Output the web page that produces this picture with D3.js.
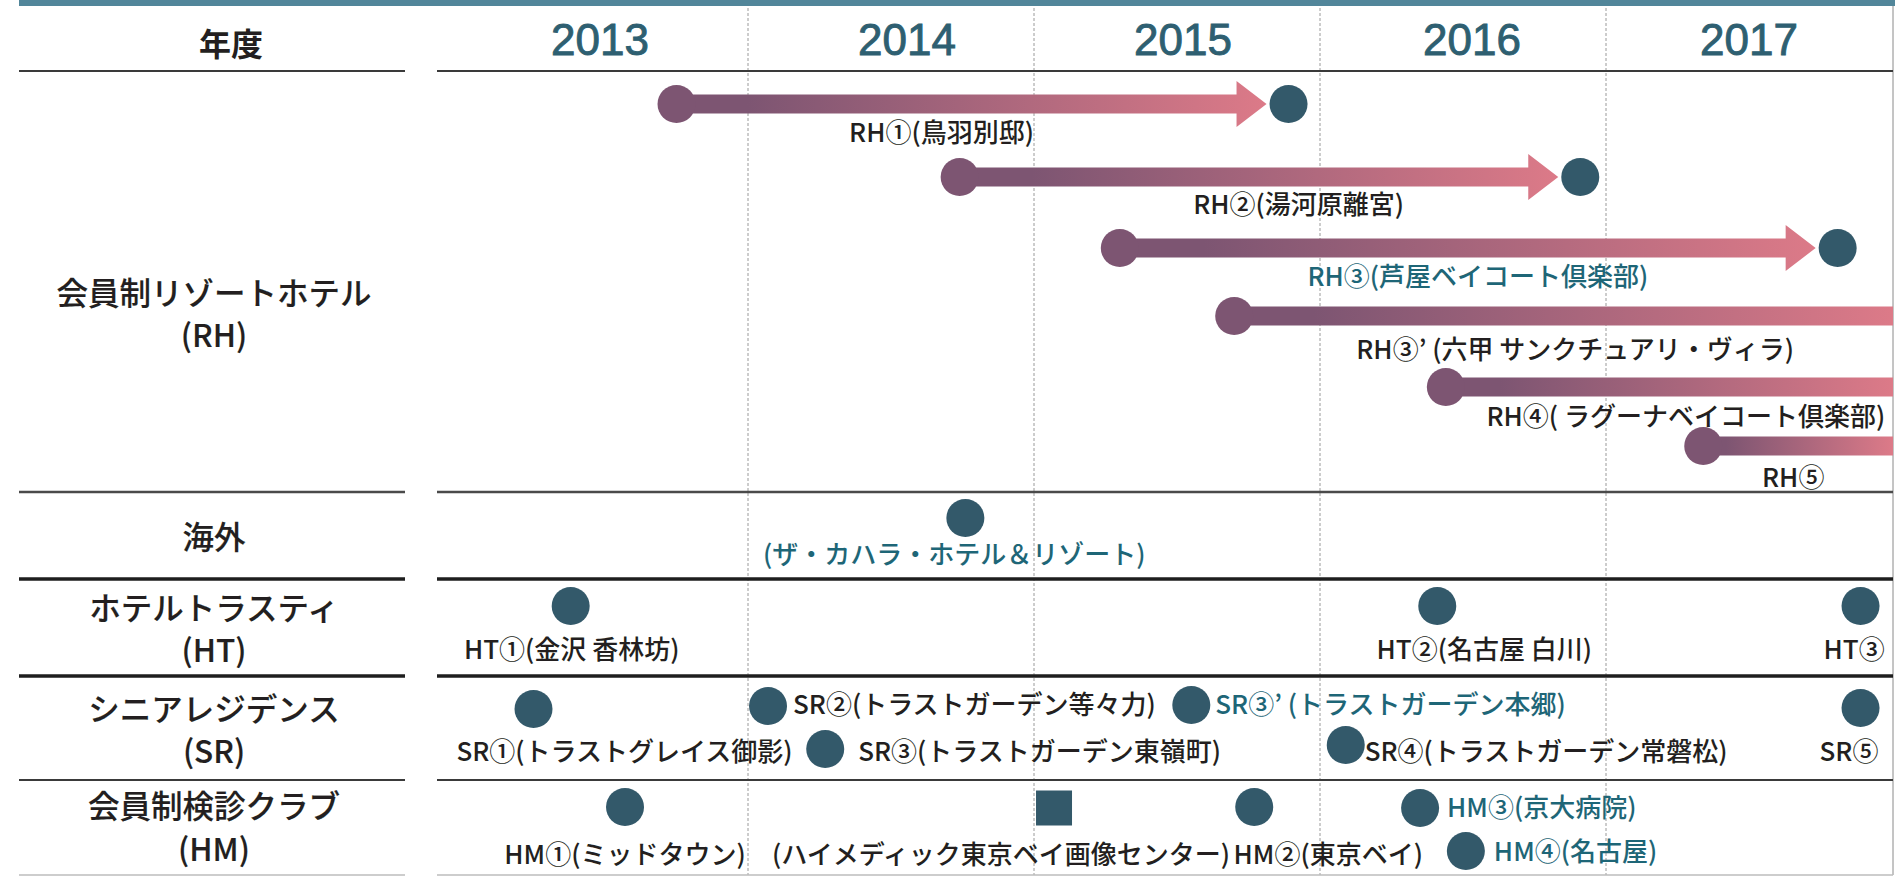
<!DOCTYPE html>
<html><head><meta charset="utf-8">
<script src="https://cdn.jsdelivr.net/npm/d3@7"></script>
<style>
html,body{margin:0;padding:0;background:#fff;overflow:hidden;}
svg{display:block;}
text{font-family:"Noto Sans CJK JP","Noto Sans",sans-serif;}
</style></head><body>
<svg id="chart" width="1895" height="876"></svg>
<script>
// ================= DATA =================
const years = [2013, 2014, 2015, 2016, 2017];
const headerLabel = "年度";
const categories = ["会員制リゾートホテル\n(RH)", "海外", "ホテルトラスティ\n(HT)", "シニアレジデンス\n(SR)", "会員制検診クラブ\n(HM)"];

// Resort hotels (RH): development start -> opening (null = still ongoing at chart edge)
const rhNames = ["RH①(鳥羽別邸)", "RH②(湯河原離宮)", "RH③(芦屋ベイコート倶楽部)", "RH③’ (六甲 サンクチュアリ・ヴィラ)", "RH④( ラグーナベイコート倶楽部)", "RH⑤"];
const rhStart = [2013.75, 2014.74, 2015.30, 2015.70, 2016.44, 2017.34];
const rhEnd   = [2015.89, 2016.91, 2017.81, null, null, null];

// Single events: category index, name, fiscal-year position, marker kind
const evCategory = [1, 2, 2, 2, 3, 3, 3, 3, 3, 3, 4, 4, 4, 4, 4];
const evNames = ["(ザ・カハラ・ホテル＆リゾート)",
  "HT①(金沢 香林坊)", "HT②(名古屋 白川)", "HT③",
  "SR①(トラストグレイス御影)", "SR②(トラストガーデン等々力)", "SR③(トラストガーデン東嶺町)", "SR③’ (トラストガーデン本郷)", "SR④(トラストガーデン常磐松)", "SR⑤",
  "HM①(ミッドタウン)", "(ハイメディック東京ベイ画像センター)", "HM②(東京ベイ)", "HM③(京大病院)", "HM④(名古屋)"];
const evYears = [2014.76,
  2013.38, 2016.41, 2017.89,
  2013.25, 2014.07, 2014.27, 2015.55, 2016.09, 2017.89,
  2013.57, 2015.07, 2015.77, 2016.35, 2016.51];
const evKind = ["circle", "circle", "circle", "circle", "circle", "circle", "circle", "circle", "circle", "circle",
  "circle", "square", "circle", "circle", "circle"];

// ================= LAYOUT / STYLE =================
const W = 1895, H = 876;
const C = {
  topBar: "#52869a", year: "#2e5f71", text: "#231f20", teal: "#1e6677",
  dot: "#33596a", gradA: "#7d5572", gradB: "#dc7a88", grid: "#9a9a9a"
};
const x = d3.scaleLinear().domain([2013, 2018]).range([462, 1892]);
const leftCol = [19, 405], rightCol = [437, 1893];
const dividers = [
  {y: 71, w: 2.2, c: "#3a3a3a"}, {y: 492, w: 2.4, c: "#4a4a4a"},
  {y: 579, w: 3.6, c: "#1e1e1e"}, {y: 676, w: 3.6, c: "#1e1e1e"},
  {y: 780, w: 2.2, c: "#3a3a3a"}, {y: 875, w: 1.4, c: "#bdbdbd"}
];
const yearDx = [-5, 16, 6, 9, 0];
const catLabelX = 214;
const catLabelY = [[294, 336], [538], [609, 651], [710, 752], [807, 850]];
// RH lanes
const rhY = [104, 177, 248, 316, 387, 446];
const rhLabelDx = [265, 339, 358, 341, 240, 90];
const rhLabelDy = [29, 28, 29, 34, 30, 32];
const rhTeal = [false, false, true, false, false, false];
// event layout: marker y, label anchor, dx, label y
const evY   = [518, 606, 606, 606, 709, 706, 749, 705, 745, 708, 807, 808, 807, 808, 851];
const evAnc = ["middle", "middle", "middle", "start", "middle", "start", "start", "start", "start", "start", "middle", "middle", "middle", "start", "start"];
const evDx  = [-11, 1, 47, -37, 91, 25, 33, 24, 19, -41, 0, -53, 74, 27, 28];
const evLY  = [555, 650, 650, 650, 752, 705, 752, 705, 752, 752, 855, 855, 855, 808, 852];
const evTeal = [true, false, false, false, false, false, false, true, false, false, false, false, false, true, true];
const R = 19, BAR = 19, HEAD_L = 30, HEAD_H = 23, TIP_GAP = 22, LABEL_FS = 26;

// ================= DRAW =================
const svg = d3.select("#chart");
const defs = svg.append("defs");
defs.append("clipPath").attr("id", "plotClip").append("rect")
  .attr("x", rightCol[0]).attr("y", 0).attr("width", rightCol[1] - rightCol[0]).attr("height", H);

// top bar
svg.append("rect").attr("x", leftCol[0]).attr("y", 0).attr("width", W - leftCol[0]).attr("height", 6).attr("fill", C.topBar);

// year grid (dotted)
svg.append("g").selectAll("line").data(years.slice(1)).join("line")
  .attr("x1", d => x(d)).attr("x2", d => x(d)).attr("y1", 8).attr("y2", 875)
  .attr("stroke", C.grid).attr("stroke-width", 1).attr("stroke-dasharray", "3,2");
// right frame line
svg.append("line").attr("x1", rightCol[1]).attr("x2", rightCol[1]).attr("y1", 6).attr("y2", 875)
  .attr("stroke", "#8a8a8a").attr("stroke-width", 1);

// dividers
const dv = svg.append("g");
dividers.forEach(d => {
  [leftCol, rightCol].forEach(col => {
    dv.append("line").attr("x1", col[0]).attr("x2", col[1]).attr("y1", d.y).attr("y2", d.y)
      .attr("stroke", d.c).attr("stroke-width", d.w);
  });
});

// header
svg.append("text").attr("x", 231).attr("y", 44).attr("dy", "0.36em").attr("text-anchor", "middle")
  .attr("font-size", 32).attr("font-weight", 700).attr("fill", C.text).text(headerLabel);
svg.append("g").selectAll("text").data(years).join("text")
  .attr("x", (d, i) => x(d + 0.5) + yearDx[i]).attr("y", 55).attr("text-anchor", "middle")
  .style("font-family", "'Liberation Sans', Arial, sans-serif")
  .attr("font-size", 44).attr("fill", C.year).attr("stroke", C.year).attr("stroke-width", 0.9)
  .text(d => d);

// category labels
const cg = svg.append("g");
categories.forEach((c, i) => {
  const lines = c.split("\n");
  lines.forEach((ln, j) => {
    cg.append("text").attr("x", catLabelX).attr("y", catLabelY[i][j]).attr("dy", "0.36em")
      .attr("text-anchor", "middle").attr("font-size", 31.5).attr("font-weight", 500)
      .attr("fill", C.text).attr("stroke", C.text).attr("stroke-width", 0.15).text(ln);
  });
});

// RH arrows
const plot = svg.append("g").attr("clip-path", "url(#plotClip)");
const rhData = rhNames.map((n, i) => ({name: n, s: rhStart[i], e: rhEnd[i], i}));
rhData.forEach(d => {
  const y = rhY[d.i];
  const x0 = x(d.s);
  const gid = "g" + d.i;
  let x1, path;
  if (d.e !== null) {
    const tip = x(d.e) - TIP_GAP;
    const hb = tip - HEAD_L;
    x1 = tip;
    path = `M${x0},${y - BAR / 2}L${hb},${y - BAR / 2}L${hb},${y - HEAD_H}L${tip},${y}L${hb},${y + HEAD_H}L${hb},${y + BAR / 2}L${x0},${y + BAR / 2}Z`;
  } else {
    x1 = x.range()[1];
    path = `M${x0},${y - BAR / 2}L${x1 + 2},${y - BAR / 2}L${x1 + 2},${y + BAR / 2}L${x0},${y + BAR / 2}Z`;
  }
  const lg = defs.append("linearGradient").attr("id", gid).attr("gradientUnits", "userSpaceOnUse")
    .attr("x1", x0).attr("x2", x1).attr("y1", 0).attr("y2", 0);
  lg.append("stop").attr("offset", 0).attr("stop-color", C.gradA);
  lg.append("stop").attr("offset", 0.12).attr("stop-color", C.gradA);
  lg.append("stop").attr("offset", 1).attr("stop-color", C.gradB);
  plot.append("path").attr("d", path).attr("fill", `url(#${gid})`);
  plot.append("circle").attr("cx", x0).attr("cy", y).attr("r", R).attr("fill", C.gradA);
  if (d.e !== null) plot.append("circle").attr("cx", x(d.e)).attr("cy", y).attr("r", R).attr("fill", C.dot);
  plot.append("text").attr("x", x0 + rhLabelDx[d.i]).attr("y", y + rhLabelDy[d.i]).attr("dy", "0.36em")
    .attr("text-anchor", "middle").attr("font-size", LABEL_FS).attr("font-weight", 500)
    .attr("fill", rhTeal[d.i] ? C.teal : C.text).text(d.name);
});

// events
const evData = evNames.map((n, i) => ({name: n, v: evYears[i], cat: evCategory[i], kind: evKind[i], i}));
evData.forEach(d => {
  const cx = x(d.v), cy = evY[d.i];
  if (d.kind === "square") {
    plot.append("rect").attr("x", cx - 18).attr("y", cy - 17.5).attr("width", 36).attr("height", 35).attr("fill", C.dot);
  } else {
    plot.append("circle").attr("cx", cx).attr("cy", cy).attr("r", R).attr("fill", C.dot);
  }
  plot.append("text").attr("x", cx + evDx[d.i]).attr("y", evLY[d.i]).attr("dy", "0.36em")
    .attr("text-anchor", evAnc[d.i]).attr("font-size", LABEL_FS).attr("font-weight", 500)
    .attr("fill", evTeal[d.i] ? C.teal : C.text).text(d.name);
});
</script>
</body></html>
